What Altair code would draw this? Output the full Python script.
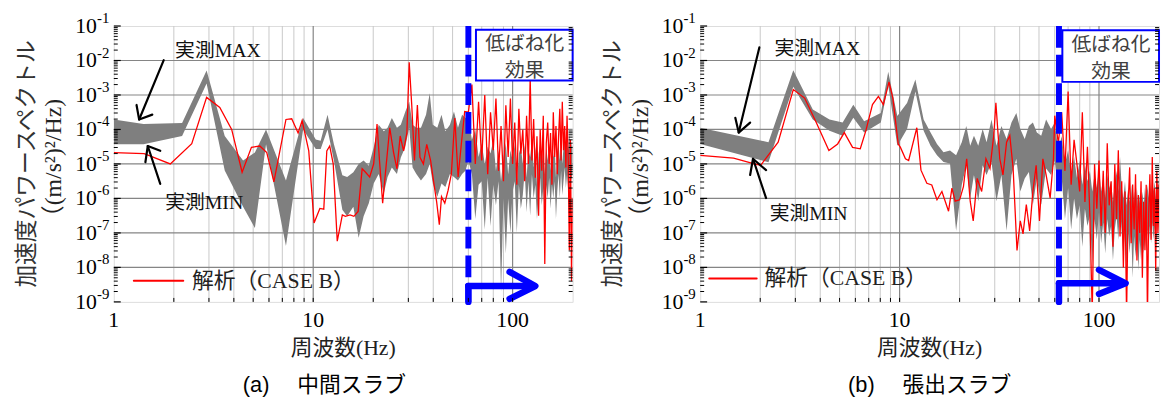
import altair as alt
import pandas as pd

# ---------------- frequency grid above 60 Hz (shared by both panels) ----------------
HF = [60.0, 62.5, 65.0, 67.5, 70.0, 72.5, 75.0, 77.5, 80.0, 82.5,
      85.0, 87.5, 90.0, 92.5, 95.0, 97.5, 100.0, 102.5, 105.0, 107.5,
      110.0, 112.5, 115.0, 117.5, 120.0, 122.5, 125.0, 127.5, 130.0, 132.5,
      135.0, 137.5, 140.0, 142.5, 145.0, 147.5, 150.0, 152.5, 155.0, 157.5,
      160.0, 162.5, 165.0, 167.5, 170.0, 172.5, 175.0, 177.5, 180.0, 182.5,
      185.0, 187.5, 190.0, 192.5, 195.0, 197.5, 200.0]

# ---------------- (a) 中間スラブ : values are log10 of PSD ((m/s2)^2/Hz) ----------------
A_BAND_F = [1.0, 1.41, 2.2, 2.92, 3.6, 4.45, 5.1, 5.8, 7.3, 8.9,
            10.3, 10.9, 11.8, 12.7, 14.0, 14.8, 15.9, 16.9, 17.9, 19.0,
            20.1, 21.3, 22.6, 23.6, 24.8, 26.3, 27.5, 28.9, 30.3, 31.5,
            32.9, 34.7, 36.8, 38.4, 39.8, 41.9, 44.0, 46.0, 48.5, 50.8,
            53.2, 55.8, 58.1]
A_MAX_LOG = [-3.71, -3.84, -3.81, -2.29, -4.19, -4.90, -4.67, -4.00, -5.48, -3.67,
             -4.29, -4.33, -3.57, -4.43, -5.33, -5.38, -5.24, -5.00, -4.90, -5.05,
             -4.52, -3.86, -4.05, -3.95, -3.67, -3.95, -3.86, -3.50, -3.20, -3.86,
             -3.95, -3.95, -3.57, -2.95, -3.86, -3.95, -3.57, -4.05, -3.86, -3.48,
             -3.95, -3.57, -3.67]
A_MIN_LOG = [-4.43, -4.43, -4.19, -2.67, -5.19, -6.24, -6.86, -4.43, -7.38, -4.00,
             -4.57, -4.57, -4.00, -4.90, -6.33, -6.52, -6.24, -7.14, -6.52, -6.14,
             -5.57, -5.29, -5.86, -5.38, -5.10, -5.29, -4.81, -4.52, -3.95, -5.10,
             -5.29, -5.48, -5.29, -5.00, -5.57, -5.95, -5.57, -5.67, -5.29, -5.38,
             -5.48, -5.29, -5.19]
A_HF_MAX_LOG = [-3.7, -4.3, -4.0, -4.8, -4.4, -5.0, -4.5, -4.7, -4.3, -5.2,
                -4.6, -5.5, -4.8, -4.4, -5.3, -4.6, -4.9, -4.4, -5.6, -4.7,
                -4.5, -5.0, -4.4, -5.4, -4.6, -4.8, -4.3, -5.1, -4.5, -5.6,
                -4.7, -4.4, -5.0, -4.6, -5.3, -4.5, -4.9, -4.4, -5.2, -4.6,
                -4.8, -4.5, -5.4, -4.7, -4.4, -4.9, -4.3, -5.0, -4.5, -4.2,
                -4.8, -4.3, -4.6, -4.1, -4.7, -4.4, -4.5]
A_HF_MIN_LOG = [-4.9, -5.3, -6.6, -5.6, -5.5, -6.9, -5.4, -6.8, -5.6, -6.2,
                -5.5, -8.7, -6.0, -7.6, -6.0, -7.0, -5.8, -5.5, -7.0, -5.6,
                -6.3, -5.9, -5.2, -6.4, -5.5, -6.5, -5.3, -6.0, -5.6, -6.6,
                -5.9, -5.4, -6.2, -5.7, -6.5, -5.6, -6.0, -5.4, -6.3, -5.6,
                -6.0, -5.5, -6.6, -5.8, -5.3, -6.0, -5.2, -5.9, -5.5, -5.1,
                -5.7, -5.3, -5.8, -5.0, -5.6, -5.4, -5.3]
A_RED_F = [1.0, 1.42, 1.92, 2.46, 2.92, 3.4, 3.9, 4.4, 4.9, 5.4,
           5.85, 6.35, 7.3, 7.8, 8.4, 8.8, 9.5, 10.1, 10.8, 11.3,
           11.7, 12.1, 12.6, 13.2, 14.0, 14.5, 15.3, 16.0, 16.8, 17.6,
           18.3, 19.2, 20.1, 20.9, 21.5, 22.3, 23.0, 24.2, 25.3, 26.3,
           27.3, 28.4, 29.5, 30.3, 31.2, 32.2, 33.3, 34.3, 35.7, 37.1,
           38.8, 40.3, 41.6, 42.9, 44.0, 45.7, 47.5, 49.3, 51.3, 53.3,
           55.3, 57.5]
A_RED_LOG = [-4.67, -4.70, -5.00, -4.41, -3.07, -3.36, -4.00, -5.24, -4.52, -4.48,
             -4.67, -5.52, -3.71, -3.69, -4.10, -3.74, -4.62, -6.71, -6.29, -6.31,
             -4.62, -4.48, -5.00, -7.24, -6.48, -6.52, -6.48, -6.52, -6.38, -5.14,
             -5.24, -5.38, -5.00, -3.84, -4.90, -6.14, -5.29, -3.95, -4.67, -5.14,
             -4.19, -4.62, -4.10, -2.05, -3.29, -4.90, -3.29, -4.81, -5.00, -4.43,
             -4.90, -5.57, -6.10, -6.76, -5.95, -6.14, -5.76, -5.29, -3.67, -5.38,
             -4.43, -3.48]
A_HF_RED_LOG = [-3.5, -2.7, -5.0, -3.2, -4.9, -3.0, -5.3, -3.5, -4.6, -3.1,
                -5.2, -3.9, -5.5, -3.3, -4.8, -3.1, -5.0, -3.8, -5.6, -3.4,
                -4.7, -4.0, -5.5, -3.6, -5.0, -2.5, -4.9, -3.7, -5.4, -4.2,
                -6.5, -4.0, -5.2, -3.6, -7.9, -4.4, -3.8, -5.0, -4.1, -5.6,
                -3.5, -4.8, -3.9, -5.3, -4.2, -3.4, -4.9, -3.2, -4.6, -3.9,
                -5.1, -3.6, -4.8, -7.5, -4.3, -8.4, -6.0]

# ---------------- (b) 張出スラブ ----------------
B_BAND_F = [1.0, 2.2, 2.93, 3.67, 4.45, 5.18, 5.86, 6.64, 8.05, 8.77,
            9.74, 10.9, 12.0, 13.2, 14.3, 15.4, 16.6, 17.9, 19.2, 20.5,
            21.6, 22.6, 23.6, 24.8, 26.1, 27.3, 28.9, 30.6, 32.4, 34.4,
            36.4, 38.5, 40.3, 42.4, 44.5, 46.6, 48.8, 51.3, 54.3, 57.5]
B_MAX_LOG = [-3.95, -4.37, -2.28, -3.42, -3.71, -3.80, -3.28, -3.76, -3.52, -2.33,
             -3.61, -3.23, -2.55, -3.71, -4.09, -4.42, -4.66, -4.61, -4.75, -4.37,
             -3.90, -4.47, -4.18, -4.47, -3.99, -4.37, -3.71, -4.47, -3.90, -4.28,
             -3.80, -3.52, -3.99, -4.28, -3.90, -3.80, -4.09, -4.18, -3.71, -3.99]
B_MIN_LOG = [-4.42, -4.95, -2.76, -3.71, -4.04, -4.18, -3.66, -4.09, -3.80, -2.71,
             -4.47, -3.99, -2.90, -4.04, -4.47, -4.75, -4.94, -4.99, -6.94, -5.61,
             -5.04, -5.99, -5.32, -6.08, -5.04, -5.32, -4.94, -6.08, -5.32, -6.94,
             -5.32, -4.85, -5.80, -5.42, -5.23, -6.18, -5.42, -6.18, -5.13, -5.32]
B_HF_MAX_LOG = [-3.8, -4.6, -4.2, -5.0, -4.6, -5.3, -4.8, -5.4, -4.9, -5.6,
                -5.0, -5.5, -5.2, -5.8, -5.3, -5.7, -5.1, -5.8, -5.4, -6.0,
                -5.3, -5.7, -5.5, -6.1, -5.6, -5.2, -5.8, -4.8, -5.7, -6.0,
                -5.5, -6.2, -5.7, -6.1, -5.6, -6.3, -5.8, -6.2, -5.7, -6.4,
                -5.9, -6.3, -5.8, -6.2, -5.7, -6.1, -5.6, -6.0, -5.5, -5.9,
                -5.4, -5.8, -5.5, -6.0, -5.3, -5.7, -5.4]
B_HF_MIN_LOG = [-4.9, -5.8, -5.4, -6.6, -5.7, -6.9, -6.0, -6.6, -6.2, -7.4,
                -6.3, -6.8, -6.5, -7.9, -6.6, -7.2, -6.4, -7.3, -6.7, -7.6,
                -6.6, -7.1, -6.8, -7.8, -6.9, -6.5, -7.2, -6.2, -7.0, -7.7,
                -6.8, -8.0, -7.0, -7.6, -6.9, -8.3, -7.1, -7.7, -7.0, -8.1,
                -7.2, -7.8, -7.1, -7.6, -7.0, -7.5, -6.9, -7.4, -6.8, -7.3,
                -6.7, -7.2, -6.8, -7.5, -6.6, -7.0, -6.7]
B_RED_F = [1.0, 1.47, 1.85, 2.01, 2.46, 2.93, 3.34, 3.82, 4.42, 4.89,
           5.28, 5.81, 6.35, 6.77, 7.31, 7.83, 8.29, 8.85, 9.25, 9.84,
           10.1, 10.7, 11.1, 12.2, 12.8, 13.7, 14.5, 15.4, 16.3, 17.6,
           18.3, 19.0, 20.0, 20.9, 21.7, 22.6, 23.4, 24.5, 25.8, 27.1,
           28.4, 29.7, 30.4, 31.8, 33.0, 34.4, 35.7, 37.1, 38.8, 40.3,
           41.6, 43.2, 44.9, 46.6, 48.4, 50.3, 52.3, 54.3, 56.9, 59.1]
B_RED_LOG = [-4.75, -4.83, -4.99, -5.04, -4.37, -2.84, -3.09, -3.80, -4.61, -4.42,
             -4.09, -4.52, -4.56, -4.04, -3.28, -3.04, -3.28, -2.62, -3.09, -4.42,
             -4.52, -4.85, -4.90, -3.95, -5.18, -5.56, -5.61, -6.04, -5.80, -6.37,
             -5.70, -6.08, -6.04, -5.66, -4.85, -6.08, -6.65, -5.42, -5.80, -4.85,
             -5.13, -4.14, -3.23, -4.85, -5.32, -4.37, -4.18, -5.13, -7.51, -6.65,
             -7.03, -6.18, -6.94, -5.80, -5.04, -6.65, -4.85, -5.32, -5.99, -4.85]
B_HF_RED_LOG = [-3.6, -4.4, -3.5, -5.2, -2.9, -5.6, -4.3, -5.0, -5.8, -3.5,
                -6.1, -4.5, -6.5, -9.3, -5.0, -6.3, -4.9, -6.8, -5.2, -7.0,
                -4.4, -6.2, -5.5, -7.4, -5.0, -6.6, -4.6, -7.1, -5.5, -8.0,
                -5.8, -9.4, -6.2, -5.1, -7.3, -5.6, -6.9, -5.3, -7.8, -5.9,
                -7.0, -5.5, -8.3, -6.1, -7.5, -5.6, -9.5, -6.4, -5.3, -7.2,
                -4.8, -6.8, -5.7, -8.1, -5.2, -7.0, -5.6]

# ---------------- axis / grid positions and tick labels ----------------
X_LABELS = [1, 10, 100]
X_LABEL_TEXT = ["1", "10", "100"]
X_MINOR = [2, 3, 4, 5, 6, 7, 8, 9, 20, 30, 40, 50, 60, 70, 80, 90]
X_MAJOR = [10, 100]
Y_DECADES = [1e-9, 1e-8, 1e-7, 1e-6, 1e-5, 1e-4, 1e-3, 1e-2, 1e-1]
Y_EXP_TEXT = ["-9", "-8", "-7", "-6", "-5", "-4", "-3", "-2", "-1"]
Y_MINOR = [k * d for d in Y_DECADES[:-1] for k in range(2, 10)]
Y_TITLE = ["加速度パワースペクトル", "（(m/s²)²/Hz)"]
X_TITLE = "周波数(Hz)"

SERIF = "Liberation Serif, Noto Sans CJK JP"
SANS = "Liberation Sans, Noto Sans CJK JP"
JP = "Noto Sans CJK JP"
BLUE = "#0000ff"
W, H = 464, 279

XS = alt.Scale(type="log", domain=[1, 200], nice=False)
YS = alt.Scale(type="log", domain=[1e-9, 1e-1], nice=False)


def ex(field="f"):
    return alt.X(f"{field}:Q", scale=XS, axis=None)


def ey(field="v"):
    return alt.Y(f"{field}:Q", scale=YS, axis=None)


def pts(pairs):
    return pd.DataFrame({"f": [p[0] for p in pairs],
                         "v": [10 ** p[1] for p in pairs],
                         "o": list(range(len(pairs)))})


def poly(pairs, color, width, **kw):
    return alt.Chart(pts(pairs)).mark_line(color=color, strokeWidth=width, strokeCap="round",
                                           strokeJoin="round", **kw).encode(
        x=ex(), y=ey(), order="o:Q")


def label(f, e, text, size=20, color="#111", font=SERIF, align="left"):
    df = pd.DataFrame({"f": [f], "v": [10 ** e], "t": [text]})
    return alt.Chart(df).mark_text(align=align, baseline="middle", font=font, fontSize=size,
                                   color=color).encode(x=ex(), y=ey(), text="t:N")


def fixed_text(text, x, y, size, font, color="#222", angle=0, align="center"):
    df = pd.DataFrame({"t": [text]})
    return alt.Chart(df).mark_text(align=align, baseline="middle", font=font, fontSize=size,
                                   color=color, angle=angle).encode(
        x=alt.value(x), y=alt.value(y), text="t:N")


def panel(band_f, bmax, bmin, hmax, hmin, red_f, red, hred, ann, caption, cap_dx):
    band = pd.DataFrame({"f": band_f + HF,
                         "hi": [10 ** e for e in bmax + hmax],
                         "lo": [10 ** e for e in bmin + hmin]})
    redd = pd.DataFrame({"f": red_f + HF, "v": [10 ** e for e in red + hred]})

    layers = []
    # grid
    layers.append(alt.Chart(pd.DataFrame({"f": X_MINOR})).mark_rule(color="#c8c8c8", strokeWidth=1)
                  .encode(x=ex(), y=alt.value(0), y2=alt.value(H)))
    layers.append(alt.Chart(pd.DataFrame({"f": X_MAJOR})).mark_rule(color="#858585", strokeWidth=1.2)
                  .encode(x=ex(), y=alt.value(0), y2=alt.value(H)))
    layers.append(alt.Chart(pd.DataFrame({"v": Y_DECADES[1:-1]})).mark_rule(color="#858585", strokeWidth=1.2)
                  .encode(y=ey(), x=alt.value(0), x2=alt.value(W)))
    # measured band (MIN..MAX)
    layers.append(alt.Chart(band).mark_area(color="#7f7f7f", opacity=1, clip=True).encode(
        x=ex(), y=ey("hi"), y2="lo:Q"))
    # analysis
    layers.append(alt.Chart(redd).mark_line(color="#ff0000", strokeWidth=1.3, clip=True)
                  .encode(x=ex(), y=ey()))
    # dashed boundary + arrow
    layers.append(alt.Chart(pd.DataFrame({"f": [ann["vline"]]})).mark_rule(
        color=BLUE, strokeWidth=6, strokeDash=[22, 7]).encode(x=ex(), y=alt.value(0), y2=alt.value(H)))
    layers.append(poly(ann["stub"], BLUE, 6.5))
    layers.append(poly(ann["arrow"], BLUE, 6.5))
    layers.append(poly(ann["head"], BLUE, 6.5))
    # text box
    x1, x2, y1, y2 = ann["box"]
    layers.append(alt.Chart(pd.DataFrame({"f": [x1], "f2": [x2], "v": [10 ** y1], "v2": [10 ** y2]}))
                  .mark_rect(fill="white", stroke=BLUE, strokeWidth=2).encode(
        x=ex(), x2="f2:Q", y=ey(), y2="v2:Q"))
    for (f, e, t) in ann["box_text"]:
        layers.append(label(f, e, t, size=20, color="#404040", font=JP, align="center"))
    # annotations
    layers.append(poly(ann["max_line"], "black", 2.2))
    layers.append(poly(ann["max_head"], "black", 2.2))
    layers.append(poly(ann["min_line"], "black", 2.2))
    layers.append(poly(ann["min_head"], "black", 2.2))
    layers.append(label(*ann["max_text"], "実測MAX"))
    layers.append(label(*ann["min_text"], "実測MIN"))
    # legend
    layers.append(poly(ann["leg_line"], "#ff0000", 2))
    layers.append(label(*ann["leg_text"], "解析（CASE B）", size=22, color="#222"))
    # inward ticks
    ymaj = pd.DataFrame({"v": Y_DECADES})
    ymin = pd.DataFrame({"v": Y_MINOR})
    layers.append(alt.Chart(ymin).mark_rule(color="black", strokeWidth=1).encode(
        y=ey(), x=alt.value(0), x2=alt.value(4)))
    layers.append(alt.Chart(ymaj).mark_rule(color="black", strokeWidth=1.2).encode(
        y=ey(), x=alt.value(0), x2=alt.value(7)))
    layers.append(alt.Chart(ymin).mark_rule(color="black", strokeWidth=1).encode(
        y=ey(), x=alt.value(W - 4), x2=alt.value(W)))
    xall = pd.DataFrame({"f": X_MINOR + X_MAJOR})
    layers.append(alt.Chart(xall).mark_rule(color="black", strokeWidth=1).encode(
        x=ex(), y=alt.value(H - 4), y2=alt.value(H)))
    # tick labels (10 with superscript exponent)
    ylab = pd.DataFrame({"v": Y_DECADES, "e": Y_EXP_TEXT, "b": ["10"] * len(Y_DECADES)})
    layers.append(alt.Chart(ylab).mark_text(align="right", baseline="middle", font=SERIF,
                                            fontSize=22, color="black").encode(
        y=ey(), x=alt.value(-17), text="b:N"))
    layers.append(alt.Chart(ylab).mark_text(align="left", baseline="middle", font=SERIF,
                                            fontSize=15, color="black", dy=-8).encode(
        y=ey(), x=alt.value(-17), text="e:N"))
    xlab = pd.DataFrame({"f": X_LABELS, "t": X_LABEL_TEXT})
    layers.append(alt.Chart(xlab).mark_text(align="center", baseline="middle", font=SERIF,
                                            fontSize=22, color="black").encode(
        x=ex(), y=alt.value(H + 18), text="t:N"))
    # axis titles and caption
    layers.append(fixed_text(Y_TITLE[0], -88, H / 2, 23, SERIF, "#333", angle=270))
    layers.append(fixed_text(Y_TITLE[1], -60, H / 2, 24, SERIF, "#222", angle=270))
    layers.append(fixed_text(X_TITLE, W / 2, H + 47, 22, SERIF, "#222"))
    layers.append(fixed_text(caption, W / 2 + cap_dx, H + 84, 22, SANS, "black"))

    return alt.layer(*layers).properties(width=W, height=H)


ANN_A = dict(
    vline=60,
    stub=[(60, -8.54), (60, -9.0)],
    arrow=[(60, -8.54), (124, -8.54)],
    head=[(96.6, -8.13), (130, -8.54), (96.6, -8.91)],
    box=(65.5, 200, -1.11, -2.58),
    box_text=[(115, -1.52, "低ばね化"), (115, -2.30, "効果")],
    max_line=[(1.78, -1.99), (1.34, -3.71)],
    max_head=[(1.30, -3.29), (1.34, -3.71), (1.56, -3.57)],
    min_line=[(1.71, -5.58), (1.48, -4.48)],
    min_head=[(1.44, -4.95), (1.48, -4.48), (1.71, -4.62)],
    max_text=(2.03, -1.73),
    min_text=(1.81, -6.13),
    leg_line=[(1.26, -8.39), (2.23, -8.39)],
    leg_text=(2.47, -8.39),
)
ANN_B = dict(
    vline=63,
    stub=[(63, -8.46), (63, -9.0)],
    arrow=[(63, -8.46), (130, -8.46)],
    head=[(100, -8.07), (136, -8.46), (100, -8.77)],
    box=(65.5, 200, -1.12, -2.62),
    box_text=[(115, -1.55, "低ばね化"), (115, -2.33, "効果")],
    max_line=[(1.98, -1.62), (1.56, -4.09)],
    max_head=[(1.50, -3.66), (1.56, -4.09), (1.78, -3.80)],
    min_line=[(2.14, -5.99), (1.84, -4.85)],
    min_head=[(1.78, -5.32), (1.84, -4.85), (2.14, -5.18)],
    max_text=(2.36, -1.67),
    min_text=(2.23, -6.46),
    leg_line=[(1.11, -8.32), (1.92, -8.32)],
    leg_text=(2.10, -8.32),
)

pa = panel(A_BAND_F, A_MAX_LOG, A_MIN_LOG, A_HF_MAX_LOG, A_HF_MIN_LOG,
           A_RED_F, A_RED_LOG, A_HF_RED_LOG, ANN_A, "(a)　 中間スラブ", -19)
pb = panel(B_BAND_F, B_MAX_LOG, B_MIN_LOG, B_HF_MAX_LOG, B_HF_MIN_LOG,
           B_RED_F, B_RED_LOG, B_HF_RED_LOG, ANN_B, "(b)　 張出スラブ", 0)

chart = alt.hconcat(pa, pb, spacing=27).properties(
    padding={"left": 7, "top": 0, "right": 0, "bottom": 0}
).configure_view(stroke="black", strokeWidth=1.5).configure(background="white")

chart.save("out.html", embed_options={"renderer": "svg", "actions": False})
